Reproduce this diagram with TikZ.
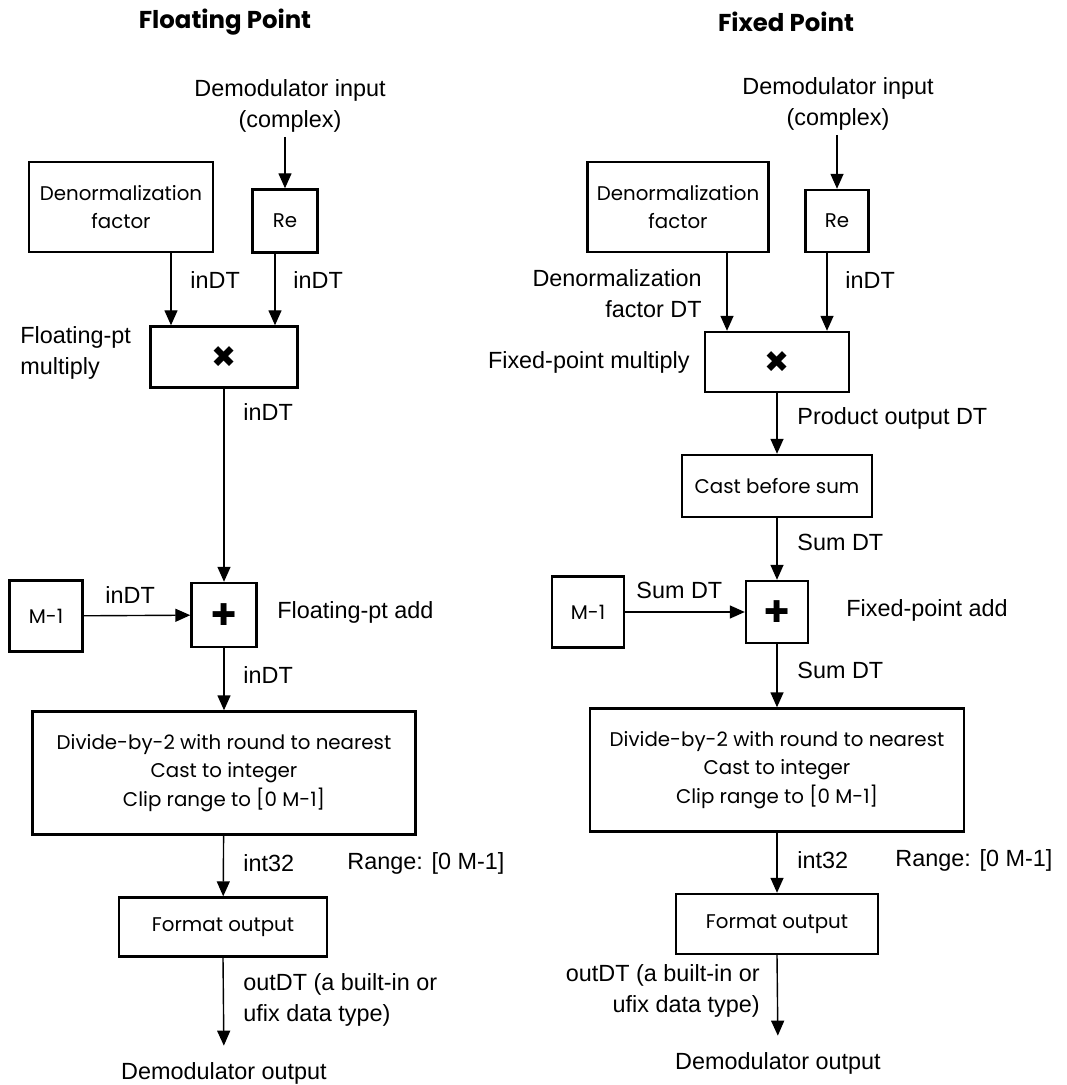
\documentclass[tikz,border=0pt]{standalone}
\usepackage{fontspec}
\setmainfont{Liberation Sans}
\newfontfamily\boxfont{Poppins}
\newfontfamily\symfont{DejaVu Sans}
\usetikzlibrary{arrows.meta, positioning}

\begin{document}
\begin{tikzpicture}[
  x=0.5pt, y=-0.5pt,
  box/.style={rectangle, draw, line width=1.2pt, inner sep=0pt, align=center,
              font=\boxfont\fontsize{9.9}{14.2}\selectfont},
  opbox/.style={box, font=\symfont\fontsize{15}{15}\selectfont},
  lbl/.style={inner sep=0pt, font=\fontsize{11.7}{15.5}\selectfont},
  ttl/.style={inner sep=0pt, font=\boxfont\bfseries\fontsize{12.2}{14}\selectfont},
  arr/.style={-{Triangle[length=7.5pt, width=6.5pt]}, line width=0.7pt},
]
\useasboundingbox (0,0) rectangle (1066,1085);

%% ---- Left panel: floating point ----
\node[ttl] (ttlL) at (225,22) {Floating Point};
\node[lbl, align=center, anchor=south] (inL) at (290,133) {Demodulator input\\(complex)};
\node[box, minimum width=92pt, minimum height=45pt] (denL) at (121,207) {Denormalization\\factor};
\node[box, minimum width=32.5pt, minimum height=31.5pt] (reL) at (285,221) {Re};
\node[opbox, minimum width=73.5pt, minimum height=30.5pt] (mulL) at (224,357) {✖};
\node[opbox, minimum width=32.5pt, minimum height=32pt] (addL) at (224,615) {✚};
\node[box, minimum width=36.5pt, minimum height=35.5pt] (mL) at (46,616) {M-1};
\node[box, minimum width=191.5pt, minimum height=61.5pt] (divL) at (224,773)
     {Divide-by-2 with round to nearest\\Cast to integer\\Clip range to [0 M-1]};
\node[box, minimum width=104pt, minimum height=29.5pt] (fmtL) at (223,927) {Format output};
\node[lbl, anchor=base] (outL) at (224,1079) {Demodulator output};

\draw[arr, shorten <=2pt] (inL.south -| reL) -- (reL.north);
\draw[arr] ([xshift=25pt]denL.south) -- ([xshift=25pt]denL.south |- mulL.north);
\draw[arr] ([xshift=-5pt]reL.south) -- ([xshift=-5pt]reL.south |- mulL.north);
\draw[arr] (mulL) -- (addL);
\draw[arr] (mL) -- (addL);
\draw[arr] (addL) -- (divL);
\draw[arr] (divL) -- (fmtL);
\draw[arr, shorten >=8pt] (fmtL.south) -- (outL.north);

\node[lbl, anchor=west] at (190,280) {inDT};
\node[lbl, anchor=west] at (293,280) {inDT};
\node[lbl, anchor=west, align=left] at (20,353) {Floating-pt\\multiply};
\node[lbl, anchor=west] at (243,412) {inDT};
\node[lbl, anchor=west] at (105,595) {inDT};
\node[lbl, anchor=west] at (277,612) {Floating-pt add};
\node[lbl, anchor=west] at (243,675) {inDT};
\node[lbl, anchor=west] at (243,863) {int32};
\node[lbl, anchor=west] at (347,863) {Range: [0 M-1]};
\node[lbl, anchor=west, align=left] at (243,1000) {outDT (a built-in or\\ufix data type)};

%% ---- Right panel: fixed point ----
\node[ttl] (ttlR) at (786,22) {Fixed Point};
\node[lbl, align=center, anchor=south] (inR) at (838,131) {Demodulator input\\(complex)};
\node[box, minimum width=90.5pt, minimum height=45pt] (denR) at (678,207) {Denormalization\\factor};
\node[box, minimum width=31.5pt, minimum height=31pt] (reR) at (837,221) {Re};
\node[opbox, minimum width=72pt, minimum height=30pt] (mulR) at (777,362) {✖};
\node[box, minimum width=95pt, minimum height=31pt] (castR) at (777,486) {Cast before sum};
\node[opbox, minimum width=31pt, minimum height=31pt] (addR) at (777,612) {✚};
\node[box, minimum width=36pt, minimum height=35.5pt] (mR) at (588,612) {M-1};
\node[box, minimum width=187pt, minimum height=61.5pt] (divR) at (777,770)
     {Divide-by-2 with round to nearest\\Cast to integer\\Clip range to [0 M-1]};
\node[box, minimum width=101pt, minimum height=30pt] (fmtR) at (777,924) {Format output};
\node[lbl, anchor=base] (outR) at (778,1069) {Demodulator output};

\draw[arr, shorten <=2pt] (inR.south -| reR) -- (reR.north);
\draw[arr] ([xshift=24.5pt]denR.south) -- ([xshift=24.5pt]denR.south |- mulR.north);
\draw[arr] ([xshift=-5pt]reR.south) -- ([xshift=-5pt]reR.south |- mulR.north);
\draw[arr] (mulR) -- (castR);
\draw[arr] (castR) -- (addR);
\draw[arr] (mR) -- (addR);
\draw[arr] (addR) -- (divR);
\draw[arr] (divR) -- (fmtR);
\draw[arr, shorten >=8pt] (fmtR.south) -- (outR.north);

\node[lbl, anchor=east, align=right] at (702,294) {Denormalization\\factor DT};
\node[lbl, anchor=west] at (845,280) {inDT};
\node[lbl, anchor=east] at (690,362) {Fixed-point multiply};
\node[lbl, anchor=west] at (797,418) {Product output DT};
\node[lbl, anchor=west] at (797,542) {Sum DT};
\node[lbl, anchor=west] at (636,590) {Sum DT};
\node[lbl, anchor=west] at (846,610) {Fixed-point add};
\node[lbl, anchor=west] at (797,670) {Sum DT};
\node[lbl, anchor=west] at (797,860) {int32};
\node[lbl, anchor=west] at (895,860) {Range: [0 M-1]};
\node[lbl, anchor=east, align=right] at (760,991) {outDT (a built-in or\\ufix data type)};

\end{tikzpicture}
\end{document}
